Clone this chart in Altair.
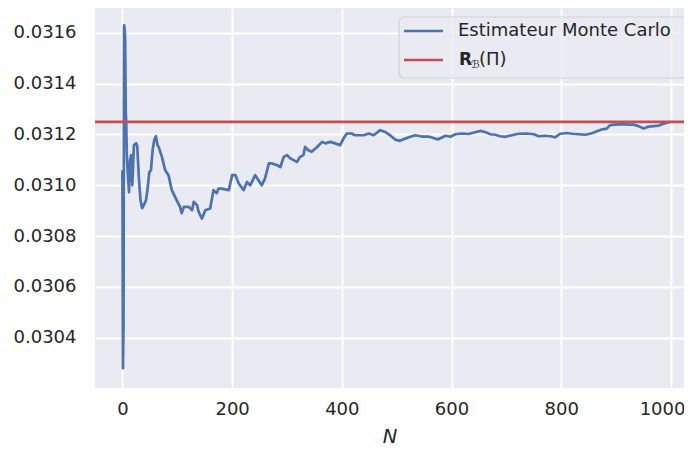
import altair as alt
import pandas as pd

# ---- data ----
N = [0, 1, 2, 3, 4, 5, 6, 7, 8, 10, 12, 14, 16, 18, 21, 25, 27, 30, 33, 36, 39, 43, 46, 49,
     52, 55, 58, 61, 64, 66, 72, 78, 84, 90, 99, 105, 108, 112, 121, 127, 130, 136, 139,
     145, 151, 160, 166, 172, 175, 181, 194, 200, 206, 212, 221, 227, 233, 242, 248, 254,
     260, 267, 273, 282, 288, 294, 300, 306, 312, 318, 324, 330, 333, 339, 345, 355, 364,
     370, 379, 388, 397, 403, 409, 418, 424, 434, 440, 449, 458, 470, 479, 488, 497, 506,
     516, 525, 534, 546, 558, 570, 576, 589, 598, 607, 619, 631, 643, 652, 661, 671, 680,
     689, 698, 710, 722, 737, 750, 759, 771, 780, 789, 798, 810, 820, 832, 844, 856, 865,
     874, 883, 889, 898, 911, 923, 932, 941, 950, 959, 968, 978, 987, 999]
estimate = [0.031059, 0.030280, 0.030457, 0.031630, 0.031618, 0.031571, 0.031296, 0.031237,
            0.031119, 0.031040, 0.030973, 0.031099, 0.031119, 0.031000, 0.031158, 0.031166,
            0.031154, 0.031028, 0.030941, 0.030910, 0.030922, 0.030941, 0.030989, 0.031052,
            0.031059, 0.031138, 0.031178, 0.031193, 0.031158, 0.031151, 0.031112, 0.031059,
            0.031040, 0.030981, 0.030941, 0.030915, 0.030890, 0.030915, 0.030915, 0.030902,
            0.030935, 0.030922, 0.030895, 0.030869, 0.030902, 0.030909, 0.030981, 0.030969,
            0.030987, 0.030987, 0.030981, 0.031040, 0.031040, 0.031007, 0.030981, 0.031013,
            0.031000, 0.031040, 0.031020, 0.031000, 0.031027, 0.031086, 0.031086, 0.031079,
            0.031072, 0.031112, 0.031119, 0.031106, 0.031099, 0.031092, 0.031112, 0.031119,
            0.031151, 0.031138, 0.031132, 0.031151, 0.031171, 0.031165, 0.031171, 0.031165,
            0.031158, 0.031184, 0.031204, 0.031204, 0.031197, 0.031197, 0.031197, 0.031204,
            0.031197, 0.031217, 0.031210, 0.031197, 0.031180, 0.031175, 0.031184, 0.031191,
            0.031197, 0.031192, 0.031192, 0.031184, 0.031181, 0.031195, 0.031191, 0.031201,
            0.031204, 0.031202, 0.031209, 0.031214, 0.031210, 0.031201, 0.031199, 0.031193,
            0.031191, 0.031197, 0.031203, 0.031204, 0.031201, 0.031193, 0.031195, 0.031193,
            0.031189, 0.031203, 0.031206, 0.031203, 0.031201, 0.031199, 0.031205, 0.031213,
            0.031220, 0.031223, 0.031237, 0.031239, 0.031241, 0.031239, 0.031239, 0.031233,
            0.031224, 0.031231, 0.031233, 0.031235, 0.031243, 0.031250]
R_B = [0.03125]
x_ticks = [0, 200, 400, 600, 800, 1000]
y_ticks = [0.0304, 0.0306, 0.0308, 0.0310, 0.0312, 0.0314, 0.0316]
legend_labels = ["Estimateur Monte Carlo"]

BLUE = "#4C72B0"
RED = "#C44E52"
FONT = "DejaVu Sans"
TXT = "#262626"

df = pd.DataFrame({"N": N, "estimate": estimate})
x_scale = alt.Scale(domain=[-50, 1023.8], nice=False, zero=False)
y_scale = alt.Scale(domain=[0.030202, 0.031698], nice=False, zero=False)

line = alt.Chart(df).mark_line(color=BLUE, strokeWidth=2.7, strokeJoin="round").encode(
    x=alt.X("N:Q", scale=x_scale,
            axis=alt.Axis(values=x_ticks, title="N", titleFontStyle="italic",
                          titleFontWeight="normal", titleFontSize=19.5, titlePadding=9,
                          labelPadding=12, format="d", labelFlush=20,
                          labelFlushOffset=14)),
    y=alt.Y("estimate:Q", scale=y_scale,
            axis=alt.Axis(values=y_ticks, title=None, format=".4f", labelPadding=19)),
)

rule = alt.Chart(pd.DataFrame({"R": R_B})).mark_rule(color=RED, strokeWidth=2.7).encode(
    y=alt.Y("R:Q", scale=y_scale)
)

one = pd.DataFrame({"k": [0]})
leg_box = alt.Chart(one).mark_rect(
    fill="#EAEAF2", fillOpacity=0.8, stroke="#CCCCCC", strokeOpacity=0.8,
    strokeWidth=1.2, cornerRadius=5
).encode(x=alt.value(304), x2=alt.value(591), y=alt.value(9), y2=alt.value(70))

leg_blue = alt.Chart(one).mark_rule(color=BLUE, strokeWidth=2.7).encode(
    x=alt.value(309), x2=alt.value(348), y=alt.value(23))
leg_red = alt.Chart(one).mark_rule(color=RED, strokeWidth=2.7).encode(
    x=alt.value(309), x2=alt.value(348), y=alt.value(52))

leg_t1 = alt.Chart(pd.DataFrame({"t": legend_labels})).mark_text(
    align="left", baseline="middle", font=FONT, fontSize=18, color=TXT
).encode(x=alt.value(363), y=alt.value(23), text="t:N")

leg_R = alt.Chart(one).mark_text(
    align="left", baseline="middle", font=FONT, fontSize=17, fontWeight="bold", color=TXT,
    text="R").encode(x=alt.value(364), y=alt.value(52))
leg_B = alt.Chart(one).mark_text(
    align="left", baseline="middle", font=FONT, fontSize=11, fontStyle="italic", color=TXT,
    text="ℬ").encode(x=alt.value(376), y=alt.value(57))
leg_P = alt.Chart(one).mark_text(
    align="left", baseline="middle", font=FONT, fontSize=18, color=TXT,
    text="(Π)").encode(x=alt.value(384), y=alt.value(52))

chart = alt.layer(line, rule, leg_box, leg_blue, leg_red, leg_t1, leg_R, leg_B, leg_P).properties(
    width=589, height=380,
    autosize=alt.AutoSizeParams(type="none"),
    padding={"left": 87, "top": 0, "right": 0, "bottom": 60},
).configure_view(
    fill="#EAEAF2", stroke=None
).configure_axis(
    labelFont=FONT, labelFontSize=18, labelColor=TXT,
    titleFont=FONT, titleColor=TXT,
    domain=False, ticks=False, grid=True, gridColor="#FFFFFF", gridWidth=1.8,
    gridOpacity=1,
)

chart.save("out.html", embed_options={"renderer": "svg", "actions": False})
